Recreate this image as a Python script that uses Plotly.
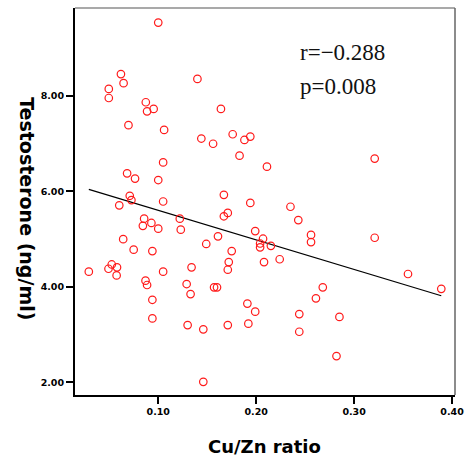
import plotly.graph_objects as go

# Cu/Zn ratio (x) and Testosterone ng/ml (y)
cu_zn = [0.100, 0.0619, 0.0646, 0.0495, 0.0495, 0.140, 0.0873, 0.0886, 0.0953, 0.164,
         0.0696, 0.106, 0.144, 0.156, 0.176, 0.188, 0.194, 0.183, 0.211, 0.321,
         0.105, 0.0682, 0.0763, 0.100, 0.0709, 0.0726, 0.105, 0.0602, 0.167, 0.194,
         0.235, 0.243, 0.122, 0.123, 0.0856, 0.0843, 0.0930, 0.100, 0.171, 0.167,
         0.161, 0.199, 0.207, 0.204, 0.204, 0.215, 0.256, 0.256, 0.321, 0.0642,
         0.0749, 0.0940, 0.149, 0.175, 0.172, 0.171, 0.208, 0.224, 0.0291, 0.0525,
         0.0492, 0.0579, 0.0575, 0.105, 0.134, 0.0870, 0.0886, 0.129, 0.133, 0.157,
         0.160, 0.0940, 0.0940, 0.130, 0.146, 0.171, 0.191, 0.199, 0.192, 0.146,
         0.268, 0.261, 0.244, 0.244, 0.285, 0.282, 0.355, 0.389]
testosterone = [9.54, 8.46, 8.27, 8.15, 7.96, 8.36, 7.87, 7.68, 7.73, 7.73,
                7.39, 7.29, 7.11, 7.00, 7.20, 7.08, 7.15, 6.75, 6.52, 6.69,
                6.61, 6.38, 6.27, 6.24, 5.91, 5.82, 5.79, 5.71, 5.93, 5.76,
                5.68, 5.40, 5.43, 5.20, 5.43, 5.28, 5.34, 5.22, 5.55, 5.48,
                5.06, 5.17, 5.01, 4.91, 4.83, 4.86, 5.09, 4.94, 5.03, 5.00,
                4.78, 4.75, 4.90, 4.75, 4.52, 4.36, 4.52, 4.58, 4.32, 4.47,
                4.38, 4.41, 4.24, 4.32, 4.41, 4.13, 4.04, 4.06, 3.85, 3.99,
                3.99, 3.73, 3.34, 3.20, 3.11, 3.20, 3.65, 3.48, 3.23, 2.01,
                3.99, 3.76, 3.43, 3.06, 3.37, 2.55, 4.27, 3.96]

# fitted regression line
fit_intercept = 6.226
fit_slope = -6.20

x_ticks = [0.10, 0.20, 0.30, 0.40]
x_tick_labels = ["0.10", "0.20", "0.30", "0.40"]
y_ticks = [2.0, 4.0, 6.0, 8.0]
y_tick_labels = ["2.00", "4.00", "6.00", "8.00"]

x_title = "Cu/Zn ratio"
y_title = "Testosterone (ng/ml)"
stats_lines = ["r=\u22120.288", "p=0.008"]

x_min, x_max = min(cu_zn), max(cu_zn)
line_x = [x_min, x_max]
line_y = [fit_intercept + fit_slope * v for v in line_x]

fig = go.Figure()
fig.add_trace(go.Scatter(
    x=line_x, y=line_y, mode="lines",
    line=dict(color="black", width=1.2), hoverinfo="skip", showlegend=False))
fig.add_trace(go.Scatter(
    x=cu_zn, y=testosterone, mode="markers",
    marker=dict(symbol="circle-open", size=7.5, color="#ff1a1a",
                line=dict(width=1.2, color="#ff1a1a")),
    showlegend=False))

tick_font = dict(family="DejaVu Sans", size=9.5, color="black", weight="bold")
title_font_y = dict(family="DejaVu Sans", size=19, color="black", weight="bold")
title_font_x = dict(family="DejaVu Sans", size=18, color="black", weight="bold")

fig.update_xaxes(
    range=[0.015, 0.403], tickvals=x_ticks, ticktext=x_tick_labels,
    ticks="outside", ticklen=7, tickwidth=2, tickcolor="black",
    showline=True, linecolor="black", linewidth=2, showgrid=False, zeroline=False,
    tickfont=tick_font)
fig.update_yaxes(
    range=[1.734, 9.846], tickvals=y_ticks, ticktext=y_tick_labels,
    ticks="outside", ticklen=7, tickwidth=2, tickcolor="black",
    showline=True, linecolor="black", linewidth=2, showgrid=False, zeroline=False,
    tickfont=tick_font)

# top and right frame lines (thinner, gray)
fig.add_shape(type="line", xref="paper", yref="paper", x0=0, x1=1, y0=1, y1=1,
              line=dict(color="#555555", width=1.2))
fig.add_shape(type="line", xref="paper", yref="paper", x0=1, x1=1, y0=0, y1=1,
              line=dict(color="#666666", width=1.5))

# axis titles
fig.add_annotation(text=x_title, xref="paper", yref="paper", x=0.4978, y=-0.1318,
                   xanchor="center", yanchor="middle", showarrow=False,
                   font=title_font_x)
fig.add_annotation(text=y_title, xref="paper", yref="paper", x=-0.1267, y=0.4806,
                   xanchor="center", yanchor="middle", showarrow=False,
                   textangle=90, font=title_font_y)

ann_y = [0.8845, 0.7966]
for txt, yy in zip(stats_lines, ann_y):
    fig.add_annotation(text=txt, xref="paper", yref="paper", x=0.587, y=yy,
                       xanchor="left", yanchor="middle", showarrow=False,
                       font=dict(family="Liberation Serif", size=23, color="#111111"))

fig.update_layout(
    width=472, height=465,
    margin=dict(l=75, r=10, t=8, b=70),
    paper_bgcolor="white", plot_bgcolor="white",
)

fig.write_html("out.html")
